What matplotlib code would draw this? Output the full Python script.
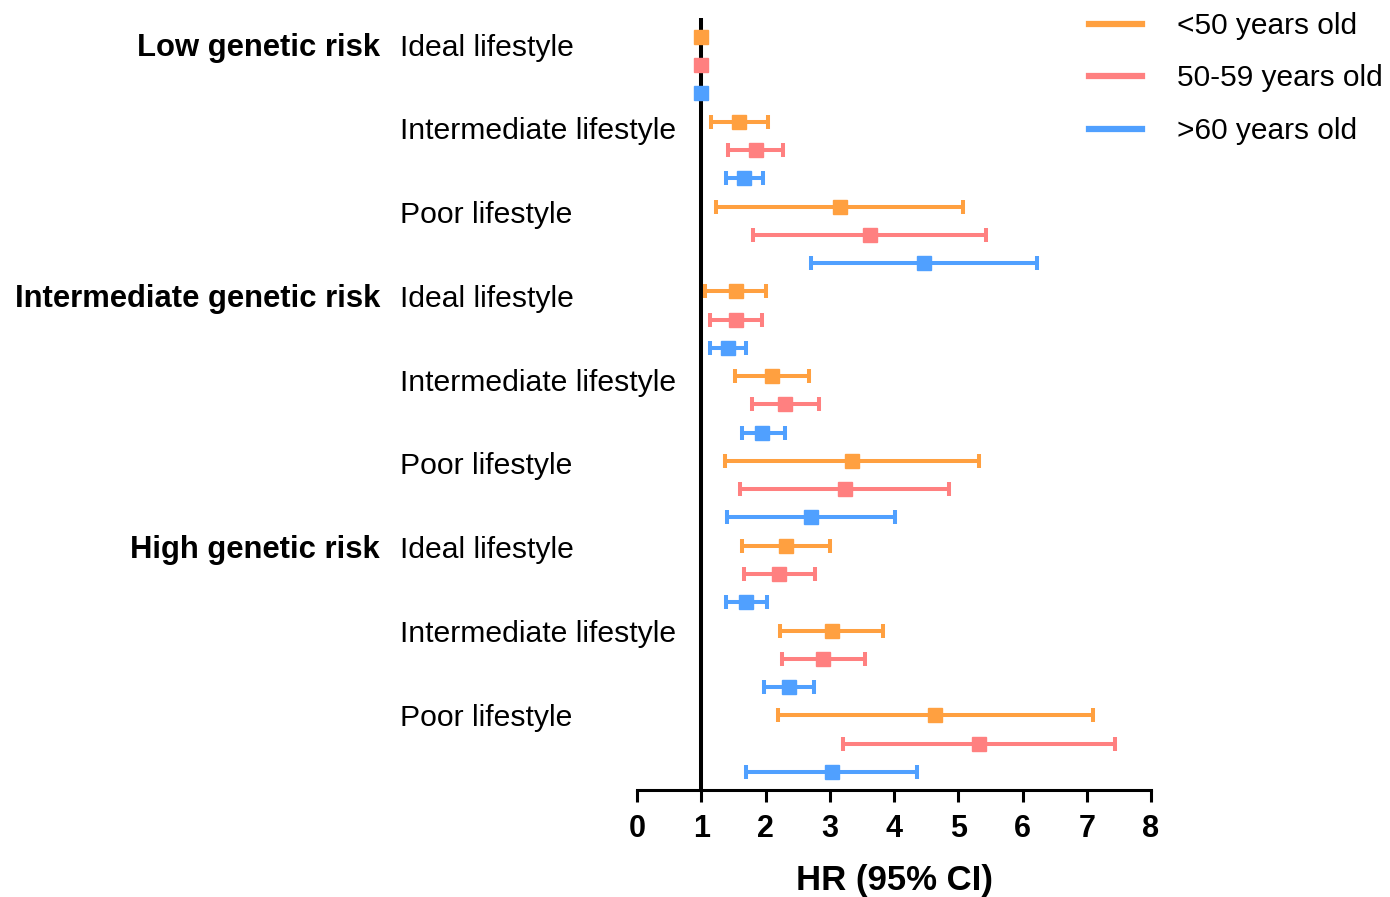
import numpy as np
import matplotlib
matplotlib.use("Agg")
import matplotlib.pyplot as plt
import matplotlib.transforms as mtransforms
from matplotlib.lines import Line2D

plt.rcParams["font.family"] = ["Liberation Sans", "DejaVu Sans"]

genetic_risk = ["Low genetic risk", "Intermediate genetic risk", "High genetic risk"]
lifestyles = ["Ideal lifestyle", "Intermediate lifestyle", "Poor lifestyle"]
age_groups = ["<50 years old", "50-59 years old", ">60 years old"]
colors = ["#FFA040", "#FF8080", "#50A0FF"]

# HR and CI per age group, order: genetic risk x lifestyle
young_hr = [1.00, 1.59, 3.16, 1.54, 2.10, 3.35, 2.32, 3.03, 4.64]
young_lo = [1.00, 1.15, 1.23, 1.06, 1.53, 1.37, 1.63, 2.22, 2.19]
young_hi = [1.00, 2.04, 5.08, 2.01, 2.67, 5.33, 3.00, 3.83, 7.10]
mid_hr = [1.00, 1.85, 3.62, 1.54, 2.31, 3.23, 2.21, 2.90, 5.32]
mid_lo = [1.00, 1.42, 1.80, 1.13, 1.79, 1.61, 1.66, 2.25, 3.21]
mid_hi = [1.00, 2.27, 5.43, 1.95, 2.84, 4.85, 2.77, 3.55, 7.44]
old_hr = [1.00, 1.67, 4.47, 1.41, 1.95, 2.71, 1.70, 2.36, 3.03]
old_lo = [1.00, 1.39, 2.71, 1.13, 1.63, 1.40, 1.39, 1.98, 1.69]
old_hi = [1.00, 1.96, 6.22, 1.69, 2.30, 4.01, 2.03, 2.76, 4.36]

series = [
    (young_hr, young_lo, young_hi),
    (mid_hr, mid_lo, mid_hi),
    (old_hr, old_lo, old_hi),
]

fig = plt.figure(figsize=(13.9, 8.97), dpi=100)
ax = fig.add_axes([637 / 1390, 107 / 897, 514 / 1390, 772 / 897])

n_cat = len(young_hr)
for j, (hr, lo, hi) in enumerate(series):
    hr = np.array(hr)
    rows = np.arange(n_cat) * 3 + j
    xerr = np.vstack([hr - np.array(lo), np.array(hi) - hr])
    ax.errorbar(hr, rows, xerr=xerr, fmt="s", color=colors[j], ms=10,
                elinewidth=2.9, capsize=4.8, capthick=2.9, zorder=3)

ax.axvline(1, color="black", lw=2.9, zorder=2)

ax.set_xlim(0, 8)
ax.set_ylim(26.64, -0.67)
ax.set_xticks(range(9))
ax.set_yticks([])
for s in ["top", "right", "left"]:
    ax.spines[s].set_visible(False)
ax.spines["bottom"].set_linewidth(2.2)
ax.tick_params(axis="x", length=8.6, width=2.2, pad=9, labelsize=22)
for lbl in ax.get_xticklabels():
    lbl.set_fontweight("bold")
ax.set_xlabel("HR (95% CI)", fontsize=25, fontweight="bold", labelpad=14)

# row labels
trans = mtransforms.blended_transform_factory(fig.transFigure, ax.transData)
step = 2.963
for k, grp in enumerate(genetic_risk):
    base = k * 3
    ax.text(380 / 1390, 0.38 + base * step, grp, transform=trans,
            ha="right", va="center", fontsize=22.3, fontweight="bold")
    for m, life in enumerate(lifestyles):
        idx = base + m
        ax.text(400 / 1390, 0.38 + idx * step, life, transform=trans,
                ha="left", va="center", fontsize=21.7)

handles = [Line2D([0], [0], color=c, lw=4.5) for c in colors]
fig.legend(handles, age_groups, loc="upper left",
           bbox_to_anchor=(1089 / 1390, 1 - 12 / 897), frameon=False,
           fontsize=21.5, handlelength=1.76, handletextpad=1.2,
           labelspacing=0.82, borderpad=0, borderaxespad=0)

fig.savefig("out.png", dpi=100)
